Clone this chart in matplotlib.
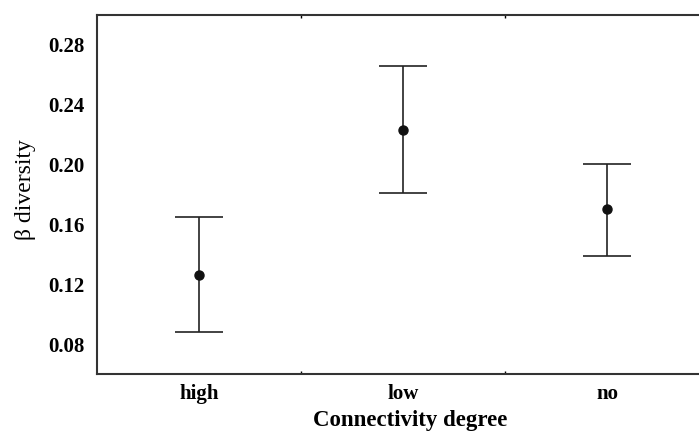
import matplotlib
matplotlib.use("Agg")
import matplotlib.pyplot as plt
import numpy as np

categories = ["high", "low", "no"]
means = [0.126, 0.223, 0.170]
upper = [0.165, 0.266, 0.200]
lower = [0.088, 0.181, 0.139]
yticks = [0.08, 0.12, 0.16, 0.20, 0.24, 0.28]
ytick_labels = ["0.08", "0.12", "0.16", "0.20", "0.24", "0.28"]

plt.rcParams['font.family'] = ['Liberation Serif', 'DejaVu Serif']

fig = plt.figure(figsize=(6.99, 4.32), dpi=100)
W, H = 699, 432
left, right, top, bottom = 97.5, 709, 14.7, 374
ax = fig.add_axes([left / W, (H - bottom) / H, (right - left) / W, (bottom - top) / H])

x = np.arange(1, len(categories) + 1)
m = np.array(means)
yerr = np.vstack([m - np.array(lower), np.array(upper) - m])
ax.errorbar(x, m, yerr=yerr, fmt='o', color='#111111', ecolor='#222222',
            elinewidth=1.2, capsize=17.5, capthick=1.2, markersize=6.5)

ax.set_xlim(0.5, 3.5)
ax.set_ylim(0.06, 0.30)
ax.set_yticks(yticks)
ax.set_yticklabels(ytick_labels, fontsize=15, fontweight='bold')
ax.tick_params(axis='y', length=0, pad=9.5)
ax.set_xticks(x)
ax.set_xticklabels(categories, fontsize=15, fontweight='bold')
ax.tick_params(axis='x', which='major', length=0, pad=7)
ax.set_xticks([1.5, 2.5], minor=True)
ax.tick_params(axis='x', which='minor', direction='in', length=2.5, width=1, top=True)

for s in ax.spines.values():
    s.set_linewidth(1.5)
    s.set_color('#333333')

ax.set_ylabel("β diversity", fontsize=17)
ax.yaxis.set_label_coords(-(97.5 - 36) / (right - left), (374 - 190) / (bottom - top))
ax.set_xlabel("Connectivity degree", fontsize=16.5, fontweight='bold')
ax.xaxis.label.set_va('bottom')
ax.xaxis.set_label_coords((410 - left) / (right - left), -(431 - 374) / (bottom - top))

fig.savefig("out.png", dpi=100)
